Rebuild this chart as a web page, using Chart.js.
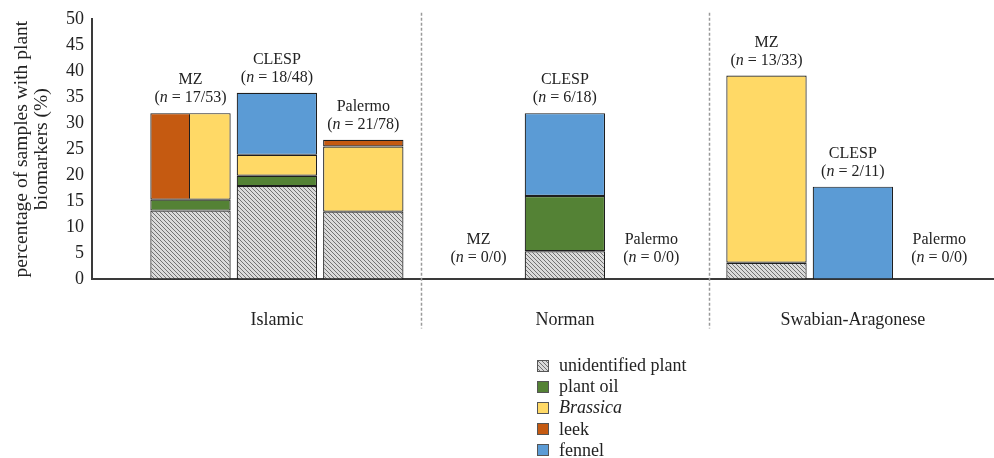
<!DOCTYPE html>
<html>
<head>
<meta charset="utf-8">
<script src="https://cdn.jsdelivr.net/npm/chart.js@4"></script>
<style>
  html, body { margin: 0; padding: 0; background: #fff; }
  #wrap { position: relative; width: 994px; height: 458px; }
  #legend { position: absolute; left: 537px; top: 355px; font-family: 'Liberation Serif', serif; font-size: 18px; color: #222; }
  #legend .row { height: 21.2px; display: flex; align-items: center; white-space: nowrap; }
  #legend .box { width: 12px; height: 12px; box-sizing: border-box; border: 1px solid #555; margin-right: 10px; flex: none; }
</style>
</head>
<body>
<div id="wrap">
  <canvas id="chart"></canvas>
  <div id="legend"></div>
</div>
<script>
// periods and sites, 9 bars in order: period x site
const groups = ['Islamic', 'Norman', 'Swabian-Aragonese'];
const sites = ['MZ', 'CLESP', 'Palermo'];
const sampleCounts = ['17/53', '18/48', '21/78', '0/0', '6/18', '0/0', '13/33', '2/11', '0/0'];

// % of samples
const unidentified = [13.2, 17.9, 13.0, 0, 5.4, 0, 3.2, 0, 0];
const plantOil     = [2.1, 2.0, 0, 0, 10.6, 0, 0, 0, 0];
const leekBrassica = [16.6, 0, 0, 0, 0, 0, 0, 0, 0]; // leek and Brassica together, drawn side by side
const brassica     = [0, 4.0, 12.5, 0, 0, 0, 35.9, 0, 0];
const leek         = [0, 0, 1.3, 0, 0, 0, 0, 0, 0];
const fennel       = [0, 11.9, 0, 0, 15.9, 0, 0, 17.8, 0];

const yTicks = [0, 5, 10, 15, 20, 25, 30, 35, 40, 45, 50];

const SITE_STEP = 0.3;   // distance between sites inside one period, in period units
const BAR_PCT = 0.93;
const FONT = '"Liberation Serif", "DejaVu Serif", serif';
const EDGE = '#1e1e1e';

const colors = {
  oil: '#548235',
  brassica: '#ffd966',
  leek: '#c55a11',
  fennel: '#5b9bd5'
};

function makeHatch() {
  const c = document.createElement('canvas');
  c.width = 4; c.height = 4;
  const g = c.getContext('2d');
  g.fillStyle = '#dadada';
  g.fillRect(0, 0, 4, 4);
  g.strokeStyle = '#727272';
  g.lineWidth = 1;
  g.beginPath();
  g.moveTo(-1, -1); g.lineTo(5, 5);
  g.moveTo(-1, 3); g.lineTo(1, 5);
  g.moveTo(3, -1); g.lineTo(5, 1);
  g.stroke();
  return c;
}
const hatchCanvas = makeHatch();
const hatch = document.createElement('canvas').getContext('2d').createPattern(hatchCanvas, 'repeat');

// x position of each bar from its period and site index
const positions = [];
const siteNames = [];
groups.forEach((g, gi) => sites.forEach((s, si) => {
  positions.push(gi + (si - 1) * SITE_STEP);
  siteNames.push(s);
}));

function splitFill(ctx) {
  const chart = ctx.chart;
  const xs = chart.scales && chart.scales.x;
  if (!xs || ctx.dataIndex === undefined) return colors.leek;
  const cx = xs.getPixelForValue(positions[ctx.dataIndex]);
  const half = (xs.getPixelForValue(SITE_STEP) - xs.getPixelForValue(0)) * BAR_PCT / 2;
  if (!isFinite(cx) || !isFinite(half) || half <= 0) return colors.leek;
  const grad = chart.ctx.createLinearGradient(cx - half, 0, cx + half, 0);
  grad.addColorStop(0, colors.leek);
  grad.addColorStop(0.48, colors.leek);
  grad.addColorStop(0.48, EDGE);
  grad.addColorStop(0.49, EDGE);
  grad.addColorStop(0.49, colors.brassica);
  grad.addColorStop(1, colors.brassica);
  return grad;
}

const series = [
  { label: 'unidentified plant', values: unidentified, color: hatch, swatch: 'hatch' },
  { label: 'plant oil', values: plantOil, color: colors.oil },
  { label: 'leek + Brassica', values: leekBrassica, color: splitFill, hidden: true },
  { label: 'Brassica', values: brassica, color: colors.brassica, italic: true },
  { label: 'leek', values: leek, color: colors.leek },
  { label: 'fennel', values: fennel, color: colors.fennel }
];

const datasets = series.map(s => ({
  label: s.label,
  data: s.values.map((v, i) => ({ x: positions[i], y: v || null })),
  backgroundColor: s.color,
  borderColor: EDGE,
  borderWidth: 1.2,
  borderSkipped: false,
  stack: 'all',
  categoryPercentage: 1,
  barPercentage: BAR_PCT
}));

const separators = {
  id: 'separators',
  beforeDatasetsDraw(chart) {
    const { ctx, chartArea, scales: { x } } = chart;
    ctx.save();
    ctx.strokeStyle = '#9a9a9a';
    ctx.lineWidth = 1.5;
    ctx.setLineDash([3, 2]);
    for (let g = 0; g < groups.length - 1; g++) {
      const px = Math.round(x.getPixelForValue(g + 0.5)) + 0.5;
      ctx.beginPath();
      ctx.moveTo(px, chartArea.top - 6);
      ctx.lineTo(px, chartArea.bottom + 49);
      ctx.stroke();
    }
    ctx.restore();
  }
};

const siteLabels = {
  id: 'siteLabels',
  afterDatasetsDraw(chart) {
    const { ctx, scales: { x, y } } = chart;
    const normal = '16px ' + FONT;
    const ital = 'italic 16px ' + FONT;
    ctx.save();
    ctx.fillStyle = '#222';
    ctx.textBaseline = 'middle';
    positions.forEach((pos, i) => {
      const total = series.reduce((t, s) => t + s.values[i], 0);
      const cx = x.getPixelForValue(pos);
      const base = y.getPixelForValue(0);
      const line2 = total > 0 ? y.getPixelForValue(total) - 15 : base - 22;

      ctx.font = normal;
      ctx.textAlign = 'center';
      ctx.fillText(siteNames[i], cx, line2 - 18);

      const pre = '(';
      const post = ' = ' + sampleCounts[i] + ')';
      const w1 = ctx.measureText(pre).width;
      const w3 = ctx.measureText(post).width;
      ctx.font = ital;
      const w2 = ctx.measureText('n').width;
      const left = cx - (w1 + w2 + w3) / 2;
      ctx.textAlign = 'left';
      ctx.font = normal;
      ctx.fillText(pre, left, line2);
      ctx.font = ital;
      ctx.fillText('n', left + w1, line2);
      ctx.font = normal;
      ctx.fillText(post, left + w1 + w2, line2);
    });
    ctx.restore();
  }
};

const chart = new Chart(document.getElementById('chart'), {
  type: 'bar',
  data: { datasets },
  options: {
    responsive: true,
    maintainAspectRatio: false,
    animation: false,
    layout: { padding: { top: 18, right: 0, bottom: 97, left: 0 } },
    plugins: {
      legend: { display: false },
      tooltip: { enabled: false }
    },
    scales: {
      x: {
        type: 'linear',
        offset: false,
        min: -0.642,
        max: 2.49,
        afterBuildTicks: scale => {
          scale.ticks = groups.map((_, g) => ({ value: g }));
        },
        ticks: {
          callback: v => groups[v],
          autoSkip: false,
          maxRotation: 0,
          padding: 30,
          color: '#222',
          font: { family: FONT, size: 18 }
        },
        grid: { display: false, drawTicks: false },
        border: { display: true, color: '#3a3a3a', width: 2 }
      },
      y: {
        stacked: true,
        min: 0,
        max: 50,
        afterBuildTicks: scale => {
          scale.ticks = yTicks.map(v => ({ value: v }));
        },
        afterFit: scale => { scale.width = 92; },
        ticks: {
          autoSkip: false,
          padding: 8,
          color: '#222',
          font: { family: FONT, size: 18 }
        },
        grid: { display: false, drawTicks: false },
        border: { display: true, color: '#3a3a3a', width: 2 },
        title: {
          display: true,
          text: ['percentage of samples with plant', 'biomarkers (%)'],
          color: '#222',
          padding: { top: 12, bottom: 0 },
          font: { family: FONT, size: 19.5, lineHeight: 1.03 }
        }
      }
    }
  },
  plugins: [separators, siteLabels]
});

// legend built from the dataset list
const legendEl = document.getElementById('legend');
const hatchUrl = hatchCanvas.toDataURL();
series.filter(s => !s.hidden).forEach(s => {
  const row = document.createElement('div');
  row.className = 'row';
  const box = document.createElement('span');
  box.className = 'box';
  if (s.swatch === 'hatch') {
    box.style.backgroundImage = 'url(' + hatchUrl + ')';
  } else {
    box.style.background = s.color;
  }
  const txt = document.createElement('span');
  txt.textContent = s.label;
  if (s.italic) txt.style.fontStyle = 'italic';
  row.appendChild(box);
  row.appendChild(txt);
  legendEl.appendChild(row);
});
</script>
</body>
</html>
